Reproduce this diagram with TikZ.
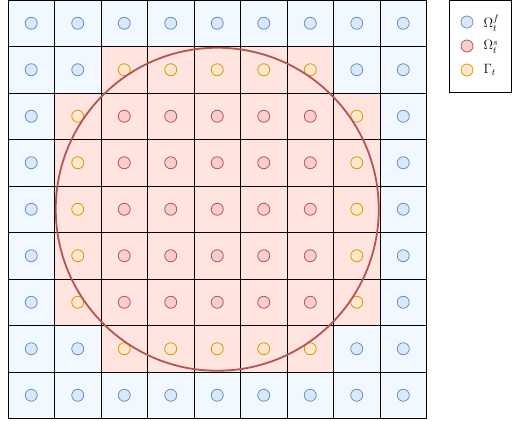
\RequirePackage{fix-cm}
\documentclass[tikz,border=0pt]{standalone}
\usepackage{amsmath}
\usepackage{amssymb}
\usepackage{xcolor}
\usetikzlibrary{positioning}

\definecolor{fluidbg}{HTML}{F2F8FF}
\definecolor{solidbg}{HTML}{FFE4E0}
\definecolor{fluidfill}{HTML}{DAE8FC}
\definecolor{fluiddraw}{HTML}{6C8EBF}
\definecolor{solidfill}{HTML}{F8CECC}
\definecolor{soliddraw}{HTML}{B85450}
\definecolor{ifacefill}{HTML}{FFE6CC}
\definecolor{ifacedraw}{HTML}{D79B00}

\begin{document}
\begin{tikzpicture}[x=1pt, y=-1pt,
    dot/.style={circle, minimum size=12pt, inner sep=0pt, line width=0.8pt},
    fluiddot/.style={dot, fill=fluidfill, draw=fluiddraw},
    soliddot/.style={dot, fill=solidfill, draw=soliddraw},
    ifacedot/.style={dot, fill=ifacefill, draw=ifacedraw},
    legendtext/.style={inner sep=0pt, font=\fontsize{13.5}{15}\selectfont},
    node distance=10pt]
    \useasboundingbox (0,0) rectangle (513,420);
    \def\cs{46.5}

    % Background of the cells
    \fill[fluidbg] (8,0) rectangle (8+9*\cs,9*\cs);
    \fill[solidbg] (8+1*\cs,2*\cs) rectangle (8+8*\cs,7*\cs);
    \fill[solidbg] (8+2*\cs,1*\cs) rectangle (8+7*\cs,8*\cs);

    % Grid
    \foreach \i in {0,...,9} {
        \draw[line width=0.9pt] (8+\i*\cs,0) -- (8+\i*\cs,9*\cs);
        \draw[line width=0.9pt] (8,\i*\cs) -- (8+9*\cs,\i*\cs);
    }

    % Fluid cells
    \foreach \c in {0,...,8} {
        \node[fluiddot] (f-0-\c) at (8+\c*\cs+0.5*\cs,0.5*\cs) {};
        \node[fluiddot] (f-8-\c) at (8+\c*\cs+0.5*\cs,8.5*\cs) {};
    }
    \foreach \r in {1,7} \foreach \c in {0,1,7,8}
        \node[fluiddot] (f-\r-\c) at (8+\c*\cs+0.5*\cs,\r*\cs+0.5*\cs) {};
    \foreach \r in {2,...,6} \foreach \c in {0,8}
        \node[fluiddot] (f-\r-\c) at (8+\c*\cs+0.5*\cs,\r*\cs+0.5*\cs) {};

    % Interface cells
    \foreach \r in {1,7} \foreach \c in {2,...,6}
        \node[ifacedot] (g-\r-\c) at (8+\c*\cs+0.5*\cs,\r*\cs+0.5*\cs) {};
    \foreach \r in {2,...,6} \foreach \c in {1,7}
        \node[ifacedot] (g-\r-\c) at (8+\c*\cs+0.5*\cs,\r*\cs+0.5*\cs) {};

    % Solid cells
    \foreach \r in {2,...,6} \foreach \c in {2,...,6}
        \node[soliddot] (s-\r-\c) at (8+\c*\cs+0.5*\cs,\r*\cs+0.5*\cs) {};

    % Boundary of the solid
    \draw[soliddraw, line width=1.8pt] (8+4.5*\cs,4.5*\cs) circle[radius=161.5];

    % Legend
    \draw[line width=0.9pt] (449.5,0.5) rectangle (511.5,92);
    \node[fluiddot] (lf) at (467,22) {};
    \node[soliddot] (ls) at (467,46) {};
    \node[ifacedot] (lg) at (467,70) {};
    \node[legendtext, right=of lf, yshift=-1pt] (lfl) {$\Omega_t^f$};
    \node[legendtext, right=of ls, yshift=-1pt] (lsl) {$\Omega_t^s$};
    \node[legendtext, right=of lg] (lgl) {$\Gamma_t$};
\end{tikzpicture}
\end{document}
